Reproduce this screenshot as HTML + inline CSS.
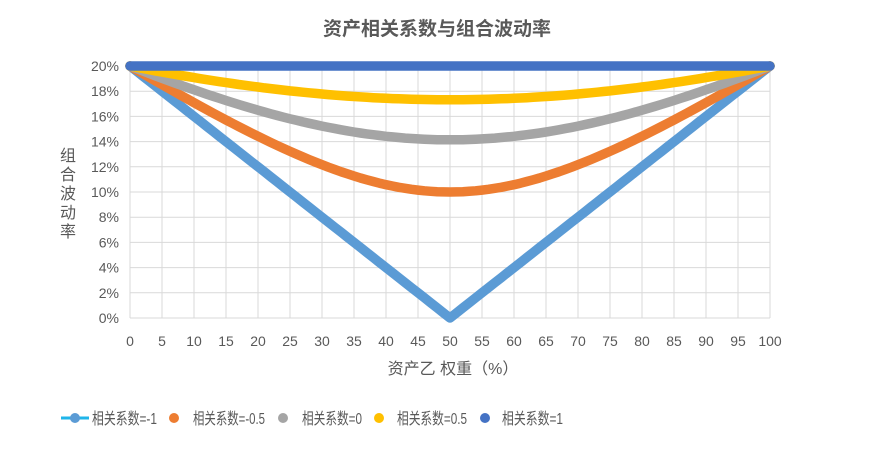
<!DOCTYPE html><html><head><meta charset="utf-8"><style>body{margin:0;background:#fff}svg{display:block}text{font-family:"Liberation Sans","Noto Sans CJK SC",sans-serif;fill:#595959}</style></head><body>
<svg id="s" width="875" height="455" xmlns="http://www.w3.org/2000/svg">
<text x="437" y="35" text-anchor="middle" font-size="19" font-weight="bold" style="fill:#595959">资产相关系数与组合波动率</text>
<g id="grid" stroke="#d9d9d9" stroke-width="1"></g>
<g id="lab" font-size="14"></g>
<text x="453" y="374" text-anchor="middle" font-size="16">资产乙 权重（%）</text>
<g font-size="16" text-anchor="middle"><text x="68" y="161">组</text><text x="68" y="180">合</text><text x="68" y="199">波</text><text x="68" y="218">动</text><text x="68" y="237">率</text></g>
<g id="ser" fill="none" stroke-width="9.5" stroke-linecap="round" stroke-linejoin="round"></g>
<g font-size="16">
<line x1="61" y1="418" x2="89" y2="418" stroke="#1fb5ea" stroke-width="3"/><circle cx="75" cy="418" r="5" fill="#5b9bd5"/><text x="92" y="424" textLength="65" lengthAdjust="spacingAndGlyphs">相关系数=-1</text>
<circle cx="174" cy="418" r="5" fill="#ed7d31"/><text x="193" y="424" textLength="72" lengthAdjust="spacingAndGlyphs">相关系数=-0.5</text>
<circle cx="283" cy="418" r="5" fill="#a5a5a5"/><text x="302" y="424" textLength="60" lengthAdjust="spacingAndGlyphs">相关系数=0</text>
<circle cx="379" cy="418" r="5" fill="#ffc000"/><text x="397" y="424" textLength="70" lengthAdjust="spacingAndGlyphs">相关系数=0.5</text>
<circle cx="485" cy="418" r="5" fill="#4472c4"/><text x="502" y="424" textLength="61" lengthAdjust="spacingAndGlyphs">相关系数=1</text>
</g>
</svg>
<script>
var ns="http://www.w3.org/2000/svg",g=document.getElementById('grid'),l=document.getElementById('lab'),se=document.getElementById('ser');
function el(p,t,a,tx){var e=document.createElementNS(ns,t);for(var k in a)e.setAttribute(k,a[k]);if(tx!=null)e.textContent=tx;p.appendChild(e);return e;}
var X0=130,X1=770,Y0=318,Y1=66;
for(var i=0;i<=10;i++){var y=Y0-(Y0-Y1)*i/10;el(g,'line',{x1:X0,x2:X1,y1:y,y2:y});el(l,'text',{x:119,y:y+5,'text-anchor':'end'},(2*i)+'%');}
for(var i=0;i<=20;i++){var x=X0+(X1-X0)*i/20;el(g,'line',{x1:x,x2:x,y1:Y1,y2:Y0});el(l,'text',{x:x,y:346,'text-anchor':'middle'},5*i);}
var S=[[-1,'#5b9bd5'],[-0.5,'#ed7d31'],[0,'#a5a5a5'],[0.5,'#ffc000'],[1,'#4472c4']];
S.forEach(function(s){var p=[];for(var i=0;i<=100;i++){var w=i/100,v=0.2*Math.sqrt(Math.max(0,w*w+(1-w)*(1-w)+2*s[0]*w*(1-w)));p.push((X0+(X1-X0)*w).toFixed(1)+','+(Y0-(Y0-Y1)*v/0.2).toFixed(1));}el(se,'polyline',{points:p.join(' '),stroke:s[1]});});
</script>
</body></html>
